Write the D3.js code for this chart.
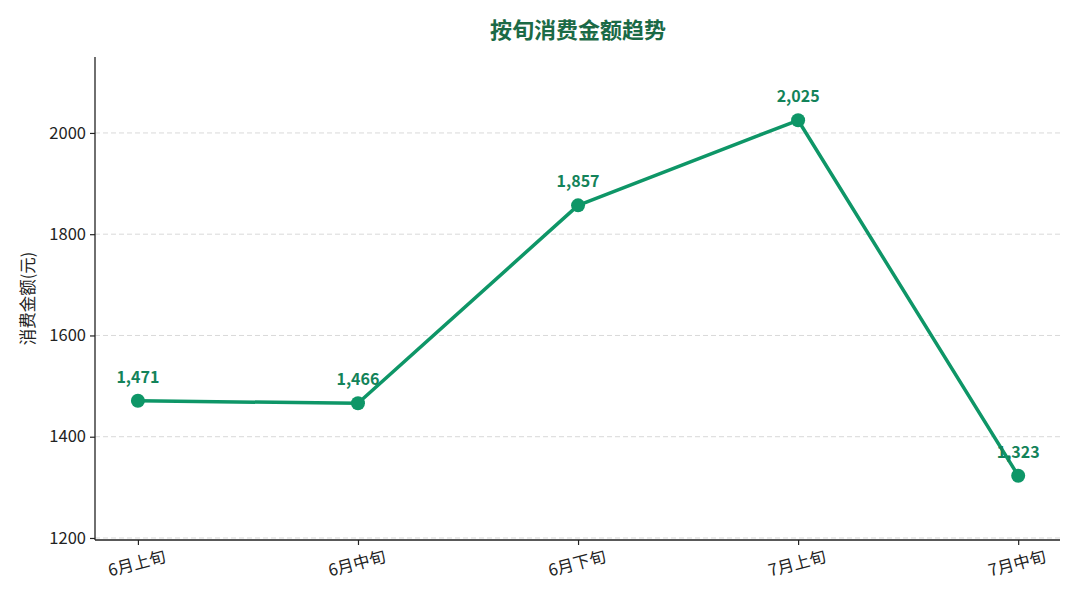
<!DOCTYPE html>
<html><head><meta charset="utf-8">
<script src="https://cdn.jsdelivr.net/npm/d3@7"></script>
<style>body{margin:0;background:#fff;} text{font-family:"Noto Sans CJK SC","Noto Sans",sans-serif;}</style>
</head><body>
<svg id="c" width="1080" height="600"></svg>
<script>
const categories = ["6月上旬","6月中旬","6月下旬","7月上旬","7月中旬"];
const values = [1471, 1466, 1857, 2025, 1323];
const yTicks = [1200, 1400, 1600, 1800, 2000];
const title = "按旬消费金额趋势";
const yLabel = "消费金额(元)";

const svg = d3.select("#c");
const L = 95, R = 1060, T = 57, B = 540;
const lineColor = "#0e9667";
const x = d3.scaleLinear().domain([-0.195, categories.length - 1 + 0.19]).range([L, R]);
const y = d3.scaleLinear().domain([1196, 2150]).range([B, T]);

// grid
svg.append("g").selectAll("line").data(yTicks).join("line")
  .attr("x1", L).attr("x2", R).attr("y1", d => y(d)).attr("y2", d => y(d))
  .attr("stroke", "#d9d9d9").attr("stroke-width", 1).attr("stroke-dasharray", "5,3");

// axes
const yAxis = svg.append("g").attr("transform", `translate(${L},0)`)
  .call(d3.axisLeft(y).tickValues(yTicks).tickFormat(d3.format("d")).tickSize(5).tickSizeOuter(0));
const xAxis = svg.append("g").attr("transform", `translate(0,${B})`)
  .call(d3.axisBottom(x).tickValues(d3.range(categories.length)).tickFormat(i => categories[i]).tickSize(5).tickSizeOuter(0));
[yAxis, xAxis].forEach(a => {
  a.select(".domain").attr("stroke", "#222").attr("stroke-width", 1.3);
  a.selectAll(".tick line").attr("stroke", "#222").attr("stroke-width", 1.2);
  a.selectAll("text").attr("fill", "#222").style("font-size", "16.5px")
   .style("font-family", '"Noto Sans CJK SC",sans-serif');
});
yAxis.select(".domain").attr("d", `M0,${B}V${T}`);
xAxis.select(".domain").attr("d", `M${L},0H${R}`);
yAxis.selectAll("text").attr("x", -9);
xAxis.selectAll("text").attr("y", 0).attr("dy", 0)
  .attr("text-anchor", "middle")
  .attr("transform", "translate(0,29) rotate(-15)");

// y label
svg.append("text").attr("transform", `translate(34,${(T+B)/2}) rotate(-90)`)
  .attr("text-anchor", "middle").attr("fill", "#222").style("font-size", "16.5px").text(yLabel);

// title
svg.append("text").attr("x", 578).attr("y", 38).attr("text-anchor", "middle")
  .attr("fill", "#1b6a46").style("font-size", "22px").style("font-weight", "bold").text(title);

// line
const data = values.map((v, i) => ({i, v}));
svg.append("path").datum(data)
  .attr("d", d3.line().x(d => x(d.i)).y(d => y(d.v)))
  .attr("fill", "none").attr("stroke", lineColor).attr("stroke-width", 3.5)
  .attr("stroke-linejoin", "round");
svg.append("g").selectAll("circle").data(data).join("circle")
  .attr("cx", d => x(d.i)).attr("cy", d => y(d.v)).attr("r", 7).attr("fill", lineColor);

// labels
svg.append("g").selectAll("text").data(data).join("text")
  .attr("x", d => x(d.i)).attr("y", d => y(d.v) - 18).attr("text-anchor", "middle")
  .attr("fill", "#13835a").style("font-size", "16px").style("font-weight", "bold")
  .text(d => d3.format(",")(d.v));
</script>
</body></html>
